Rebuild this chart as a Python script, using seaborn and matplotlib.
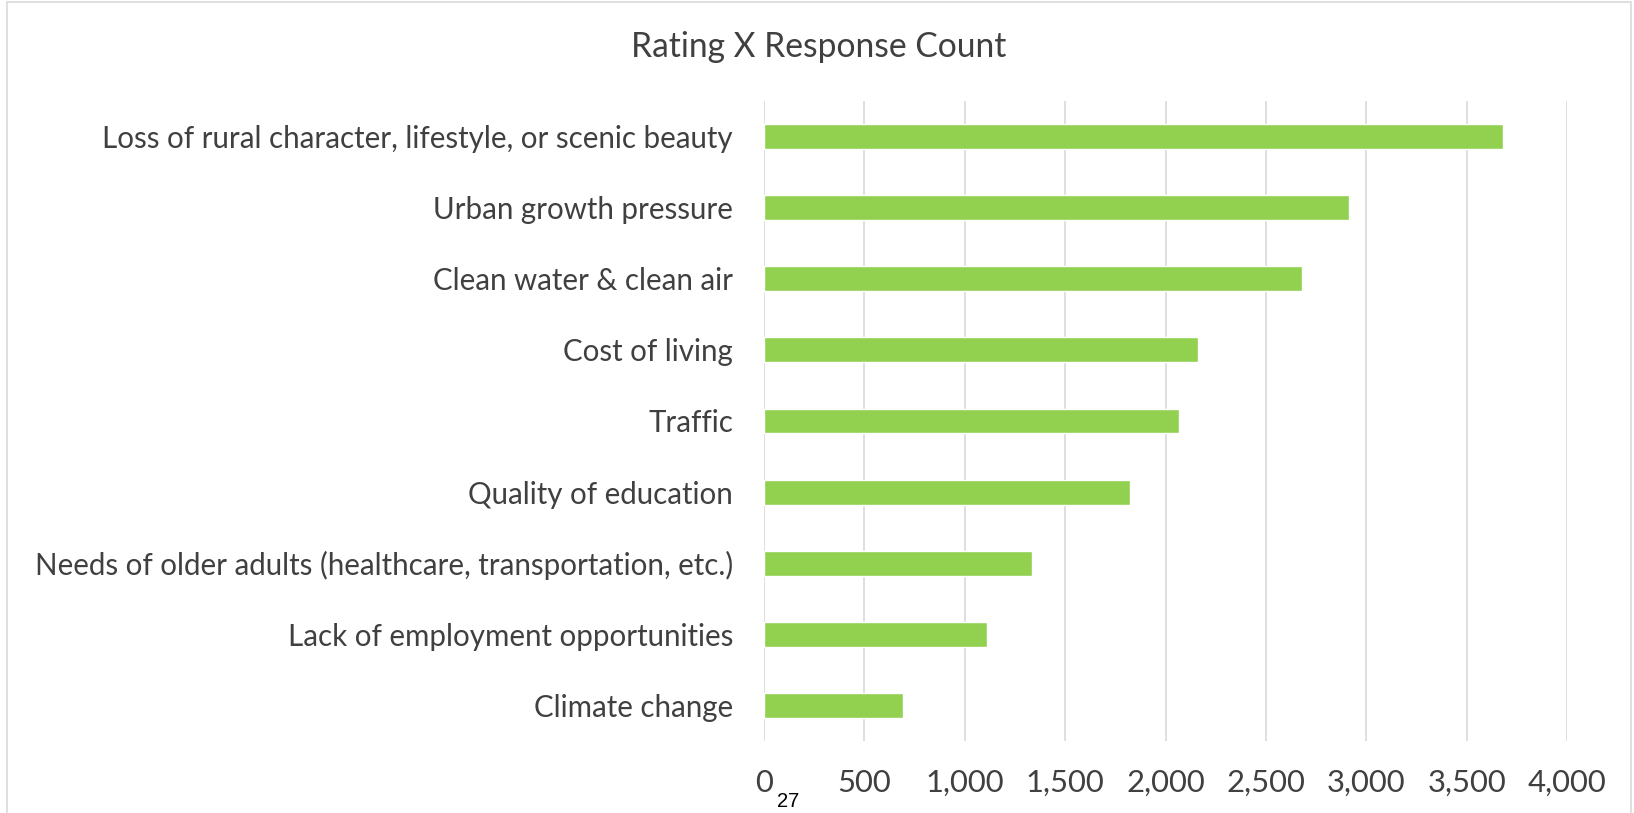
import matplotlib
matplotlib.use("Agg")
import matplotlib.pyplot as plt
import seaborn as sns
import pandas as pd
from matplotlib.patches import Rectangle
from matplotlib.ticker import FuncFormatter

categories = [
    "Loss of rural character, lifestyle, or scenic beauty",
    "Urban growth pressure",
    "Clean water & clean air",
    "Cost of living",
    "Traffic",
    "Quality of education",
    "Needs of older adults (healthcare, transportation, etc.)",
    "Lack of employment opportunities",
    "Climate change",
]
counts = [3680, 2915, 2678, 2164, 2066, 1821, 1337, 1110, 694]
x_ticks = [0, 500, 1000, 1500, 2000, 2500, 3000, 3500, 4000]
title = "Rating X Response Count"

sns.set_style("white")
plt.rcParams["font.family"] = ["Lato", "DejaVu Sans"]
TXT = "#404040"
BAR = "#92D050"
GRID = "#D9D9D9"

W, H = 1634, 813
fig = plt.figure(figsize=(W / 100, H / 100), dpi=100)
fig.patch.set_facecolor("white")

def fx(px):
    return px / W

def fy(py):
    return 1 - py / H

left, right, top, bottom = 764, 1567, 101, 741
ax = fig.add_axes([fx(left), fy(bottom), (right - left) / W, (bottom - top) / H])

df = pd.DataFrame({"category": categories, "count": counts})
sns.barplot(data=df, x="count", y="category", orient="h", color=BAR,
            saturation=1, width=0.35, ax=ax)

ax.set_xlim(0, 4000)
ax.set_ylim(len(categories) - 0.5, -0.5)
ax.set_xticks(x_ticks)
ax.xaxis.set_major_formatter(FuncFormatter(lambda v, p: f"{int(v):,}"))
ax.set_xlabel("")
ax.set_ylabel("")
ax.xaxis.grid(True, color=GRID, lw=1.2)
ax.yaxis.grid(False)
ax.set_axisbelow(True)
for s in ax.spines.values():
    s.set_visible(False)

fig.canvas.draw()
renderer = fig.canvas.get_renderer()

def fit_size(text, target_w, family):
    t = fig.text(0, 0, text, fontsize=20, family=family)
    w = t.get_window_extent(renderer).width
    t.remove()
    return 20 * target_w / w

lab_fs = fit_size(categories[0], 631, ["Lato", "DejaVu Sans"])
tick_fs = fit_size("4,000", 79, ["Lato", "DejaVu Sans"])
title_fs = fit_size(title, 376, ["Lato", "DejaVu Sans"])

ax.tick_params(axis="y", length=0, pad=31 * 72 / 100, labelsize=lab_fs, labelcolor=TXT)
ax.tick_params(axis="x", length=0, pad=28 * 72 / 100, labelsize=tick_fs, labelcolor=TXT)

fig.text(fx(819), fy(47), title, ha="center", va="center", fontsize=title_fs, color=TXT)

# chart frame
fig.add_artist(Rectangle((fx(7), fy(830)), fx(1631) - fx(7), fy(2) - fy(830),
                         transform=fig.transFigure, fill=False, edgecolor=GRID, lw=1.2))

fig.text(fx(788), fy(801), "27", ha="center", va="center", fontsize=14.5,
         color="black", family=["Liberation Sans", "DejaVu Sans"])

fig.savefig("out.png", dpi=100, facecolor="white")
